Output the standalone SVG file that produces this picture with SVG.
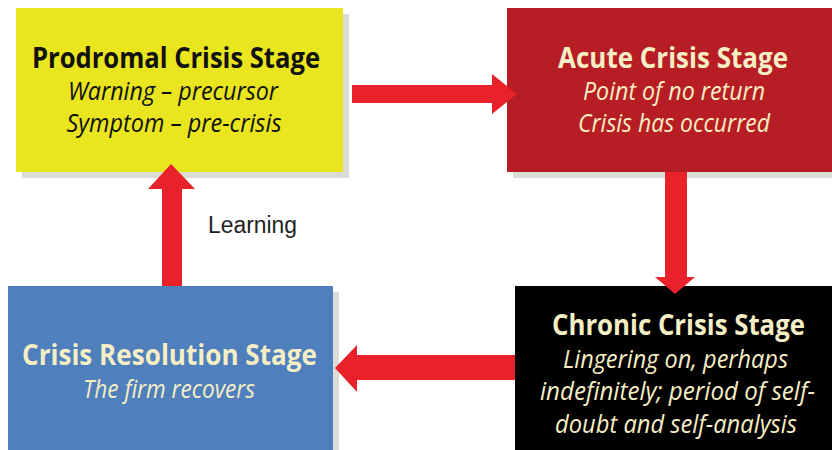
<svg xmlns="http://www.w3.org/2000/svg" width="832" height="450" viewBox="0 0 832 450">
<style>
.shadow{fill:#dcdcd6}
.title{font-family:"Open Sans","Liberation Sans",sans-serif;font-weight:bold;font-size:29px;text-anchor:middle}
.sub{font-family:"Open Sans","Liberation Sans",sans-serif;font-style:italic;font-size:25px;text-anchor:middle}
.dark{fill:#111111}
.light{fill:#f6eec4}
.arrow{fill:#e8212a}
.label{font-family:"Liberation Sans",Arial,sans-serif;font-size:23px;fill:#222222}
</style>
<rect width="832" height="450" fill="#ffffff"/>
<g id="prodromal">
<rect class="shadow" x="22" y="14" width="327" height="164"/>
<rect x="16" y="8" width="327" height="164" fill="#e9e51e"/>
<text class="title dark" x="176" y="68" textLength="288" lengthAdjust="spacingAndGlyphs">Prodromal Crisis Stage</text>
<text class="sub dark" x="173" y="100" textLength="210" lengthAdjust="spacingAndGlyphs">Warning – precursor</text>
<text class="sub dark" x="174" y="132" textLength="215" lengthAdjust="spacingAndGlyphs">Symptom – pre-crisis</text>
</g>
<g id="acute">
<rect class="shadow" x="513" y="14" width="325" height="164"/>
<rect x="507" y="8" width="325" height="164" fill="#b71d25"/>
<text class="title light" x="673" y="68" textLength="230" lengthAdjust="spacingAndGlyphs">Acute Crisis Stage</text>
<text class="sub light" x="674" y="100" textLength="182" lengthAdjust="spacingAndGlyphs">Point of no return</text>
<text class="sub light" x="674" y="132" textLength="192" lengthAdjust="spacingAndGlyphs">Crisis has occurred</text>
</g>
<g id="resolution">
<rect class="shadow" x="14" y="292" width="325" height="164"/>
<rect x="8" y="286" width="325" height="164" fill="#4f7fbd"/>
<text class="title light" x="169.5" y="365" textLength="295" lengthAdjust="spacingAndGlyphs">Crisis Resolution Stage</text>
<text class="sub light" x="169" y="398" textLength="172" lengthAdjust="spacingAndGlyphs">The firm recovers</text>
</g>
<g id="chronic">
<rect x="515" y="286" width="317" height="164" fill="#000000"/>
<text class="title light" x="678.5" y="335" textLength="253" lengthAdjust="spacingAndGlyphs">Chronic Crisis Stage</text>
<text class="sub light" x="675.5" y="368" textLength="225" lengthAdjust="spacingAndGlyphs">Lingering on, perhaps</text>
<text class="sub light" x="677.5" y="400" textLength="275" lengthAdjust="spacingAndGlyphs">indefinitely; period of self-</text>
<text class="sub light" x="676" y="433" textLength="242" lengthAdjust="spacingAndGlyphs">doubt and self-analysis</text>
</g>
<g id="connectors">
<polygon class="arrow" points="352,85 492,85 492,74 517,94 492,114 492,103 352,103"/>
<polygon class="arrow" points="665,172 687,172 687,277 695,277 675,294 655,277 665,277"/>
<polygon class="arrow" points="515,355 515,380 357,380 357,392 335,368 357,345 357,355"/>
<polygon class="arrow" points="162,286 182,286 182,189 195,189 171,164 148,189 162,189"/>
<text class="label" x="208" y="233" textLength="89" lengthAdjust="spacingAndGlyphs">Learning</text>
</g>
</svg>
